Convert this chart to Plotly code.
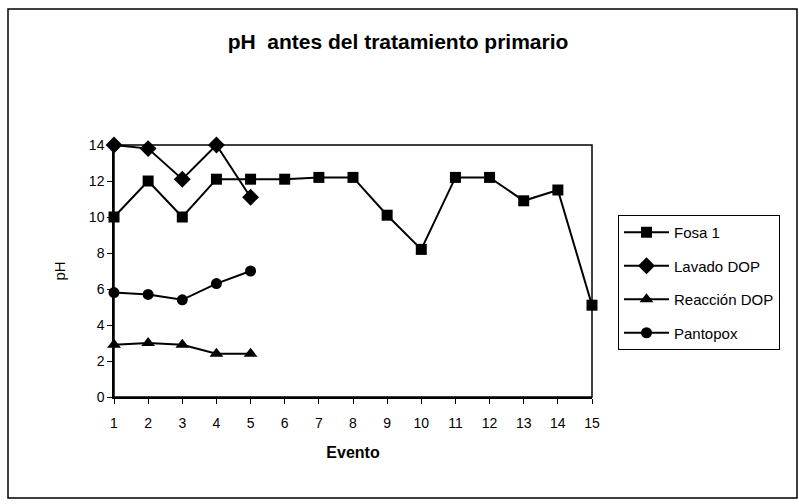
import plotly.graph_objects as go

# === Data ===
eventos = list(range(1, 16))

fosa_1 = [10.0, 12.0, 10.0, 12.1, 12.1, 12.1, 12.2, 12.2, 10.1, 8.2, 12.2, 12.2, 10.9, 11.5, 5.1]
lavado_dop = [14.0, 13.8, 12.1, 14.0, 11.1]
reaccion_dop = [2.9, 3.0, 2.9, 2.4, 2.4]
pantopox = [5.8, 5.7, 5.4, 6.3, 7.0]

y_ticks = [0, 2, 4, 6, 8, 10, 12, 14]

series = [
    ("Fosa 1", fosa_1, "square", 11),
    ("Lavado DOP", lavado_dop, "diamond", 13),
    ("Reacción DOP", reaccion_dop, "triangle-up", 12),
    ("Pantopox", pantopox, "circle", 11),
]

font_family = "Liberation Sans, Arial, sans-serif"

# === Figure ===
fig = go.Figure()

for name, values, symbol, size in series:
    fig.add_trace(
        go.Scatter(
            x=eventos[: len(values)],
            y=values,
            mode="lines+markers",
            name=name,
            legendgroup=name,
            line=dict(color="black", width=2),
            marker=dict(symbol=symbol, size=size, color="black"),
            cliponaxis=False,
        )
    )

# === Layout ===
fig.update_layout(
    width=799,
    height=504,
    margin=dict(l=114, r=207, t=145, b=107),
    paper_bgcolor="white",
    plot_bgcolor="white",
    font=dict(family=font_family, size=14, color="black"),
    title=dict(
        text="<b>pH  antes del tratamiento primario</b>",
        x=398 / 799,
        xref="container",
        xanchor="center",
        y=1 - 42 / 504,
        yref="container",
        yanchor="middle",
        font=dict(size=21, family=font_family, color="black"),
    ),
    xaxis=dict(
        range=[1, 15],
        tickvals=eventos,
        ticks="outside",
        ticklen=5,
        tickcolor="black",
        ticklabelstandoff=7,
        showgrid=False,
        zeroline=False,
        showline=True,
        linecolor="black",
        linewidth=1.5,
        title=dict(text="<b>Evento</b>", font=dict(size=16), standoff=17),
    ),
    yaxis=dict(
        range=[0, 14],
        tickvals=y_ticks,
        ticks="outside",
        ticklen=5,
        tickcolor="black",
        showgrid=False,
        zeroline=False,
        showline=True,
        linecolor="black",
        linewidth=1.5,
        title=dict(text="pH", font=dict(size=15), standoff=20),
    ),
    legend=dict(
        x=(618 - 114) / 478,
        y=(397 - 215) / 252,
        xanchor="left",
        yanchor="top",
        bordercolor="black",
        borderwidth=1,
        bgcolor="white",
        tracegroupgap=11,
        itemwidth=45,
        font=dict(size=15),
    ),
    showlegend=True,
)

# plot area border and outer chart border
fig.add_shape(
    type="rect", xref="paper", yref="paper", x0=0, x1=1, y0=0, y1=1,
    line=dict(color="black", width=1.5), layer="below",
)
fig.add_shape(
    type="rect", xref="paper", yref="paper",
    x0=(8 - 114) / 478, x1=(797 - 114) / 478,
    y0=(397 - 498) / 252, y1=(397 - 9) / 252,
    line=dict(color="black", width=1.5),
)

fig.write_html(
    "out.html",
    config={"displayModeBar": False},
    post_script="document.body.style.margin = '0';",
)
